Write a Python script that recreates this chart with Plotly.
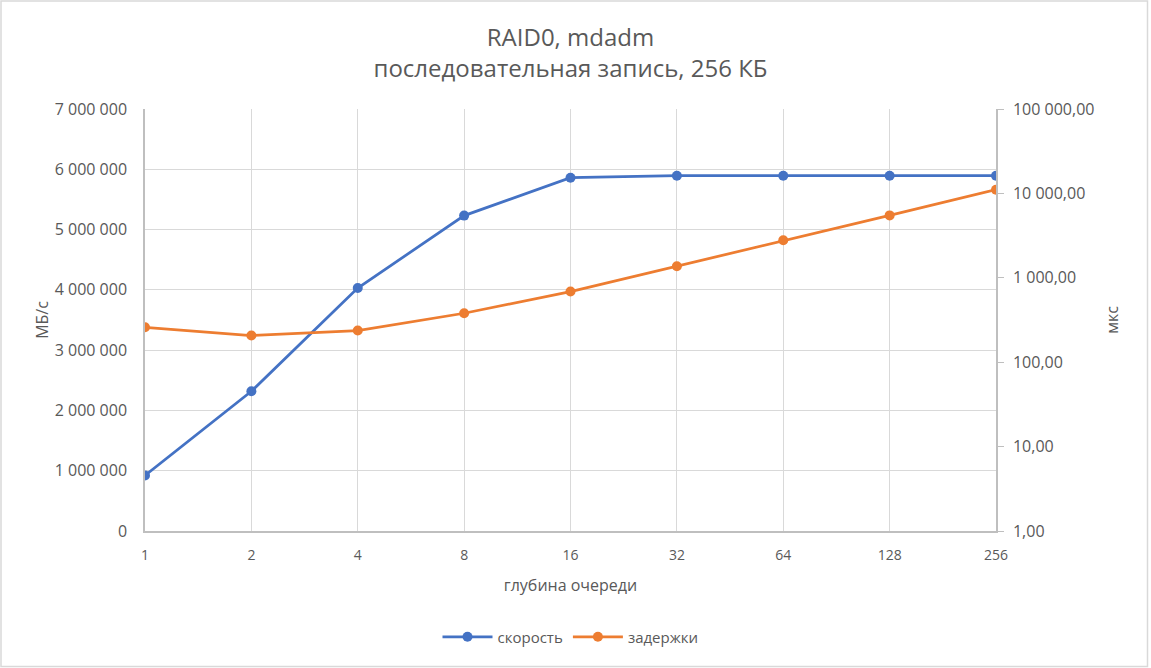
import plotly.graph_objects as go

queue_depth = ["1", "2", "4", "8", "16", "32", "64", "128", "256"]
speed_mbs = [920000, 2318000, 4030000, 5232000, 5860000, 5894000, 5894000, 5894000, 5894000]
latency_us = [259, 207, 237, 380, 687, 1368, 2780, 5490, 11070]

left_ticks = [0, 1000000, 2000000, 3000000, 4000000, 5000000, 6000000, 7000000]
right_ticks = [1, 10, 100, 1000, 10000, 100000]

title_lines = ["RAID0, mdadm", "последовательная запись, 256 КБ"]
x_title = "глубина очереди"
y_title = "МБ/с"
y2_title = "мкс"
names = ["скорость", "задержки"]

BLUE = "#4472C4"
ORANGE = "#ED7D31"
TXT = "#595959"
GRID = "#D9D9D9"
AX = "#BFBFBF"
FONT = "Open Sans"

fig = go.Figure()
fig.add_trace(go.Scatter(x=queue_depth, y=speed_mbs, name=names[0], mode="lines+markers",
                         line=dict(color=BLUE, width=2.75), marker=dict(size=10, color=BLUE)))
fig.add_trace(go.Scatter(x=queue_depth, y=latency_us, name=names[1], mode="lines+markers",
                         yaxis="y2", line=dict(color=ORANGE, width=2.75),
                         marker=dict(size=10, color=ORANGE)))

W, H = 1151, 668
L, R, T, B = 145, 155, 109, 137
pw, ph = W - L - R, H - T - B

fig.update_layout(
    width=W, height=H,
    margin=dict(l=L, r=R, t=T, b=B),
    paper_bgcolor="white", plot_bgcolor="white",
    separators=", ",
    font=dict(family=FONT, color=TXT, size=14),
    title=dict(text="<br>".join(title_lines), x=0.5, xref="paper", xanchor="center",
               y=1 - 46 / H, yanchor="middle", font=dict(size=24, color=TXT, family=FONT)),
    showlegend=True,
    legend=dict(orientation="h", x=0.5, xanchor="center", xref="paper",
                y=-(637 - T - ph) / ph,
                yanchor="middle", font=dict(size=15, color=TXT), itemwidth=50),
    xaxis=dict(type="category", range=[0, len(queue_depth) - 1], showgrid=True, gridcolor=GRID,
               gridwidth=1, showline=True, linecolor=AX, linewidth=1.5, ticks="", zeroline=False,
               tickfont=dict(size=14, color=TXT), ticklabelstandoff=10,
               title=dict(text=x_title, font=dict(size=16, color=TXT), standoff=17)),
    yaxis=dict(range=[0, 7000000], tickvals=left_ticks, tickformat=",d", showgrid=True,
               gridcolor=GRID, gridwidth=1, showline=True, linecolor=AX, linewidth=1.5,
               zeroline=False, ticks="", tickfont=dict(size=16, color=TXT), ticklabelstandoff=13,
               title=dict(text=y_title, font=dict(size=16, color=TXT), standoff=2)),
    yaxis2=dict(type="log", range=[0, 5], overlaying="y", side="right", tickvals=right_ticks,
                tickformat=",.2f", showgrid=False, showline=True, linecolor=AX, linewidth=1.5,
                ticks="outside", ticklen=6, tickcolor=AX, zeroline=False,
                tickfont=dict(size=16, color=TXT), ticklabelstandoff=6,
                title=dict(text=y2_title, font=dict(size=16, color=TXT), standoff=13)),
    shapes=[dict(type="rect", xref="paper", yref="paper",
                 x0=(-L + 1) / pw, x1=(W - L - 3.5) / pw,
                 y0=-(B - 1.5) / ph, y1=1 + (T - 1) / ph,
                 line=dict(color=GRID, width=1.5), fillcolor="rgba(0,0,0,0)", layer="below")],
)

fig.write_html("out.html", config={"displayModeBar": False},
               post_script="document.body.style.margin='0';")
